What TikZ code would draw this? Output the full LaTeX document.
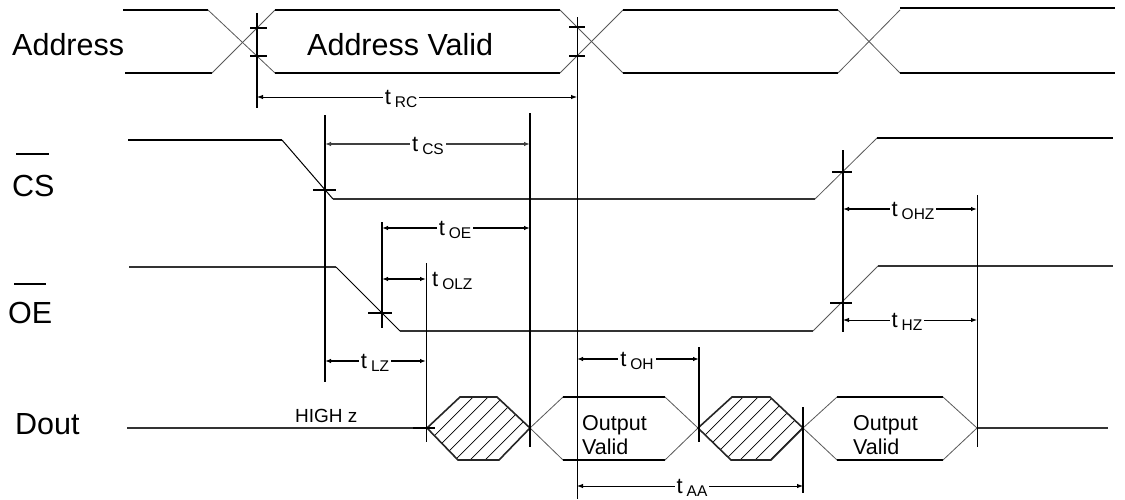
\documentclass[tikz,border=0pt]{standalone}
\usepackage{fontspec}
\setmainfont{Liberation Sans}
\usetikzlibrary{arrows.meta}
\newcommand\tsub[1]{{\fontsize{22}{22}\selectfont t}\hspace{4pt}\raisebox{-0.25em}{\fontsize{15.5}{15.5}\selectfont #1}}
\begin{document}
\begin{tikzpicture}[x=1pt,y=-1pt,
  lvl/.style={line width=2.2pt, black},
  lvlthin/.style={line width=1.2pt, black!80},
  edge/.style={line width=0.8pt, black!65},
  vthick/.style={line width=2pt, black},
  vthin/.style={line width=0.9pt, black},
  tickmark/.style={line width=1.1pt, black},
  dim/.style={{Latex[length=6pt,width=4.5pt]}-{Latex[length=6pt,width=4.5pt]}, line width=0.9pt},
  dimthick/.style={dim, line width=1.8pt},
  big/.style={font=\fontsize{30.5}{30.5}\selectfont, inner sep=0pt, anchor=base west},
  mid/.style={font=\fontsize{21.5}{21.5}\selectfont, inner sep=0pt, anchor=base west},
  small/.style={font=\fontsize{19}{19}\selectfont, inner sep=0pt, anchor=base west},
  tlab/.style={fill=white, inner sep=2pt},
  hexout/.style={line width=1.6pt, black!85},
  hatch/.style={line width=0.7pt, black}]
\useasboundingbox (0,0) rectangle (1125,499);
\fill[white] (0,0) rectangle (1125,499);

% ---------- signal names ----------
\node[big] (nAddr) at (12,55) {Address};
\node[big] (nCS) at (12,196) {CS};
\node[big] (nOE) at (8,323) {OE};
\node[big] (nDout) at (15,434) {Dout};
\draw[line width=1.5pt] (16,154) -- (49,154);
\draw[line width=1.5pt] (14,284) -- (46,284);

% ---------- Address ----------
\draw[lvl] (123,10) -- (208,10);
\draw[lvl] (125,73) -- (212,73);
\draw[edge] (208,10) -- (275,73);
\draw[edge] (212,73) -- (275,10);
\draw[lvl] (275,10) -- (560,10);
\draw[lvl] (275,73) -- (560,73);
\draw[edge] (560,10) -- (623,73);
\draw[edge] (560,73) -- (623,10);
\draw[lvl] (623,10) -- (838,10);
\draw[lvl] (623,73) -- (838,73);
\draw[edge] (838,10) -- (900,73);
\draw[edge] (838,73) -- (900,10);
\draw[lvl] (900,8) -- (1115,8);
\draw[lvl] (900,73) -- (1115,73);
\node[big] (nAV) at (307,55) {Address Valid};

% ---------- CS ----------
\draw[lvl] (128,140) -- (282,140);
\draw[edge, line width=1pt, black] (282,140) -- (333,199);
\draw[lvlthin] (333,199) -- (815,199);
\draw[edge] (815,199) -- (877,138);
\draw[lvl] (877,138) -- (1113,138);

% ---------- OE ----------
\draw[lvlthin] (129,267) -- (336,267);
\draw[edge, line width=1pt, black] (336,267) -- (400,331);
\draw[lvlthin] (400,331) -- (813,331);
\draw[edge] (813,331) -- (878,266);
\draw[lvlthin] (878,266) -- (1113,266);

% ---------- Dout ----------
\draw[lvlthin] (127,428) -- (427,428);
\node[small] (nHZ) at (295,422) {HIGH z};
% hatched 1
\begin{scope}
  \clip (427,428) -- (460,397) -- (497,397) -- (530,428) -- (499,460) -- (458,460) -- cycle;
  \foreach \i in {0,...,12} \draw[hatch] (385+\i*15,470) -- ++(90,-90);
\end{scope}
\draw[hexout] (427,428) -- (460,397) -- (497,397) -- (530,428) -- (499,460) -- (458,460) -- cycle;
% output valid 1
\draw[edge] (530,428) -- (563,397);
\draw[edge] (530,428) -- (563,460);
\draw[lvl] (563,397) -- (665,397);
\draw[lvl] (563,460) -- (665,460);
\draw[edge] (665,397) -- (698,428);
\draw[edge] (665,460) -- (698,428);
\node[mid] (nOV1a) at (582,430) {Output};
\node[mid] (nOV1b) at (582,454) {Valid};
% hatched 2
\begin{scope}
  \clip (698,428) -- (732,397) -- (770,397) -- (803,428) -- (771,460) -- (731,460) -- cycle;
  \foreach \i in {0,...,12} \draw[hatch] (655+\i*15,470) -- ++(90,-90);
\end{scope}
\draw[hexout] (698,428) -- (732,397) -- (770,397) -- (803,428) -- (771,460) -- (731,460) -- cycle;
% output valid 2
\draw[edge] (803,428) -- (837,397);
\draw[edge] (803,428) -- (837,460);
\draw[lvl] (837,397) -- (943,397);
\draw[lvl] (837,460) -- (943,460);
\draw[edge] (943,397) -- (977,428);
\draw[edge] (943,460) -- (977,428);
\node[mid] (nOV2a) at (853,430) {Output};
\node[mid] (nOV2b) at (853,454) {Valid};
\draw[lvlthin] (977,428) -- (1108,428);

% ---------- vertical markers ----------
\draw[vthick] (257,13) -- (257,108);
\draw[tickmark] (250,28) -- (267,28);
\draw[tickmark] (250,56) -- (267,56);
\draw[vthin] (577,17) -- (577,499);
\draw[tickmark] (569,27) -- (585,27);
\draw[tickmark] (569,56) -- (585,56);
\draw[vthick] (325,115) -- (325,382);
\draw[tickmark] (313,190) -- (336,190);
\draw[vthick] (530,113) -- (530,447);
\draw[vthick] (382,222) -- (382,328);
\draw[tickmark] (368,313) -- (392,313);
\draw[vthin] (426,263) -- (426,442);
\draw[line width=1.8pt] (413,428) -- (435,428);
\draw[vthick] (699,347) -- (699,442);
\draw[vthick] (803,407) -- (803,493);
\draw[vthick] (843,150) -- (843,332);
\draw[tickmark] (832,172) -- (852,172);
\draw[line width=1.6pt] (830,303) -- (852,303);
\draw[vthin] (977,195) -- (977,447);

% ---------- timing arrows ----------
\draw[dim] (257,97) -- (577,97);
\node[tlab] (lRC) at (401,99) {\tsub{RC}};
\draw[dim, black!75, line width=1.2pt] (325,144) -- (530,144);
\node[tlab] (lCS) at (428,146) {\tsub{CS}};
\draw[dimthick] (382,228) -- (530,228);
\node[tlab] (lOE) at (455,230) {\tsub{OE}};
\draw[dimthick] (382,279) -- (426,279);
\node[inner sep=0pt, anchor=west] (lOLZ) at (432,281) {\tsub{OLZ}};
\draw[dimthick] (325,361) -- (426,361);
\node[tlab] (lLZ) at (375,363) {\tsub{LZ}};
\draw[dimthick] (577,359) -- (699,359);
\node[tlab] (lOH) at (637,361) {\tsub{OH}};
\draw[dim] (577,486) -- (803,486);
\node[tlab] (lAA) at (692,488) {\tsub{AA}};
\draw[dimthick] (843,209) -- (977,209);
\node[tlab] (lOHZ) at (913,211) {\tsub{OHZ}};
\draw[dim] (843,320) -- (977,320);
\node[tlab] (lHZ) at (907,322) {\tsub{HZ}};
\end{tikzpicture}
\end{document}
